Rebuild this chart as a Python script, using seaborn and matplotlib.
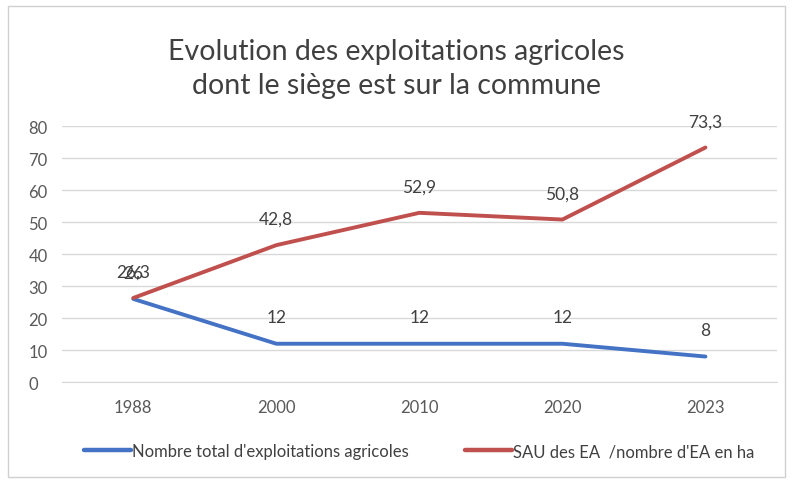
import numpy as np
import pandas as pd
import seaborn as sns
import matplotlib.pyplot as plt
from matplotlib.patches import Rectangle

# donnees
annees = ["1988", "2000", "2010", "2020", "2023"]
nb_exploitations = [26, 12, 12, 12, 8]
sau_par_ea = [26.3, 42.8, 52.9, 50.8, 73.3]
noms_series = ["Nombre total d'exploitations agricoles", "SAU des EA  /nombre d'EA en ha"]
couleurs = ["#4472C4", "#C0504D"]
y_ticks = [0, 10, 20, 30, 40, 50, 60, 70, 80]

sns.set_style("white")
plt.rcParams['font.family'] = ['Lato', 'DejaVu Sans']

df = pd.DataFrame({
    "annee": annees * 2,
    "pos": list(range(len(annees))) * 2,
    "valeur": nb_exploitations + sau_par_ea,
    "serie": [noms_series[0]] * len(annees) + [noms_series[1]] * len(annees),
})

fig = plt.figure(figsize=(7.92, 4.85), dpi=100)
ax = fig.add_axes([0.078, 0.21, 0.903, 0.528])

sns.lineplot(data=df, x="pos", y="valeur", hue="serie", palette=couleurs,
             hue_order=noms_series, linewidth=2.8, ax=ax, legend=True)

# etiquettes de donnees (les deux de 1988 se chevauchent comme dans l'original)
for _, r in df.iterrows():
    txt = f"{r['valeur']:g}".replace(".", ",")
    ax.annotate(txt, (r["pos"], r["valeur"]), xytext=(0, 19), textcoords="offset points",
                ha="center", va="center", fontsize=12.5, color="#404040")

ax.set_xlim(-0.5, len(annees) - 0.5)
ax.set_ylim(0, 80)
ax.set_yticks(y_ticks)
ax.set_xticks(range(len(annees)))
ax.set_xticklabels(annees)
ax.tick_params(axis="both", length=0, labelsize=12, labelcolor="#595959")
ax.tick_params(axis="x", pad=12)
ax.tick_params(axis="y", pad=24)
for lbl in ax.get_yticklabels():
    lbl.set_horizontalalignment("left")
ax.grid(axis="y", color="#D9D9D9", linewidth=1)
ax.set_axisbelow(True)
ax.set_xlabel("")
ax.set_ylabel("")
for s in ["top", "right", "left"]:
    ax.spines[s].set_visible(False)
ax.spines["bottom"].set_color("#D9D9D9")

leg = ax.legend(loc="center", bbox_to_anchor=(0.5, -0.27), ncol=2, frameon=False,
                fontsize=12, handlelength=2.8, handletextpad=0.05, columnspacing=3.4)
for t in leg.get_texts():
    t.set_color("#404040")
for h in leg.get_lines():
    h.set_linewidth(3.2)

fig.text(0.5, 0.858, "Evolution des exploitations agricoles\ndont le siège est sur la commune",
         ha="center", va="center", fontsize=20.5, color="#404040", linespacing=1.4)

fig.patches.append(Rectangle((8 / 792, 7 / 485), 777 / 792, 471 / 485, transform=fig.transFigure,
                             fill=False, edgecolor="#D0D0D0", linewidth=1))

fig.savefig("out.png", dpi=100)
